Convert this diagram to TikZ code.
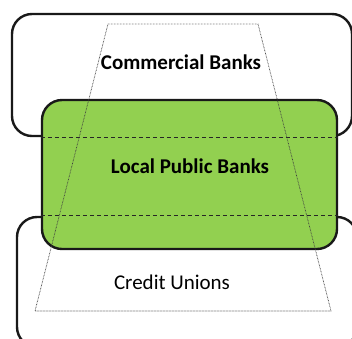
\documentclass[tikz,border=0pt]{standalone}
\usepackage{fontspec}
\setmainfont{Carlito}
\definecolor{lpbgreen}{RGB}{146,208,80}
\begin{document}
\begin{tikzpicture}[x=1pt,y=-1pt,
	box/.style={rectangle, draw=black!90, line width=2.4pt, rounded corners=20pt, inner sep=0pt},
	seam/.style={draw=black!85, line width=1.2pt, dash pattern=on 4pt off 3pt},
	funnel/.style={draw=black!75, line width=0.7pt, dash pattern=on 0.7pt off 0.8pt},
	label/.style={font=\fontsize{21}{25}\selectfont}]
	\useasboundingbox (0,0) rectangle (352,338);
	\node (CB) at (182,  75)	[box, minimum width=340pt, minimum height=122pt]	{};
	\node (CU) at (187, 282)	[box, minimum width=340pt, minimum height=130pt]	{};
	\node (LPB) at (189.5, 174.5)	[box, fill=lpbgreen, minimum width=295pt, minimum height=149pt]	{};
	\draw[seam] (LPB.west |- CB.south) -- (LPB.east |- CB.south);
	\draw[seam] (LPB.west |- CU.north) -- (LPB.east |- CU.north);
	\coordinate (T1) at (108,  24);
	\coordinate (T2) at (258,  24);
	\coordinate (T3) at (331, 311);
	\coordinate (T4) at ( 35, 311);
	\draw[funnel] (T1) -- (T2) -- (T3) -- (T4) -- cycle;
	\node (CBtext)  at (181,  62)	[label]	{\textbf{Commercial Banks}};
	\node (LPBtext) at (190, 166)	[label]	{\textbf{Local Public Banks}};
	\node (CUtext)  at (172, 282)	[label]	{Credit Unions};
\end{tikzpicture}
\end{document}
